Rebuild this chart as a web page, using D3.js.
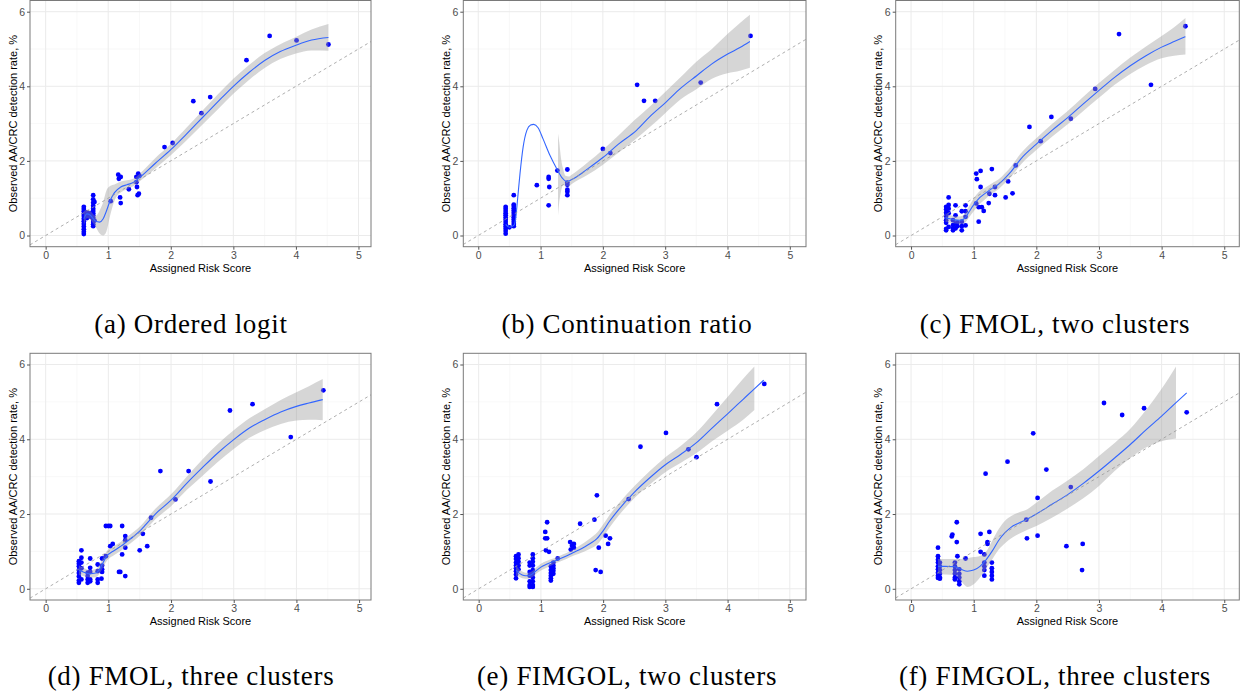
<!DOCTYPE html>
<html>
<head>
<meta charset="utf-8">
<script src="https://cdn.jsdelivr.net/npm/d3@7"></script>
<style>
  body { margin: 0; background: #fff; }
  svg { display: block; }
</style>
</head>
<body>
<div id="chart"></div>
<script>
// ---- data ----
var captions = ['(a) Ordered logit', '(b) Continuation ratio', '(c) FMOL, two clusters',
                '(d) FMOL, three clusters', '(e) FIMGOL, two clusters', '(f) FIMGOL, three clusters'];
var xTicks = [0, 1, 2, 3, 4, 5];
var yTicks = [0, 2, 4, 6];
var xMinor = [0.5, 1.5, 2.5, 3.5, 4.5];
var yMinor = [1, 3, 5];
var xTitle = 'Assigned Risk Score';
var yTitle = 'Observed AA/CRC detection rate, %';

// (a) ordered logit
var aX = [0.61,0.61,0.61,0.61,0.61,0.61,0.61,0.61,0.61,0.61,0.61,0.61,0.66,0.66,0.66,0.72,0.72,
          0.76,0.76,0.76,0.76,0.76,0.76,0.76,0.76,0.76,0.76,0.76,0.76,0.76,0.78,0.78,
          1.04,1.16,1.17,1.2,1.19,1.2,1.33,1.45,1.45,1.48,1.46,1.47,1.49,1.5,1.9,2.03,2.36,2.49,2.63,3.21,3.58,4.01,4.52];
var aY = [0.04,0.1,0.17,0.24,0.31,0.38,0.45,0.52,0.58,0.65,0.71,0.77,0.47,0.55,0.62,0.5,0.6,
          0.25,0.3,0.36,0.42,0.48,0.54,0.6,0.66,0.72,0.8,0.88,0.97,1.08,0.9,0.4,
          0.92,1.63,1.52,1.57,1.02,0.87,1.24,1.57,1.43,1.66,1.3,1.08,1.12,1.6,2.37,2.48,3.6,3.28,3.71,4.7,5.35,5.23,5.12];
var aSmoothX = [0.61,0.66,0.71,0.76,0.8,0.86,0.92,0.97,1.03,1.1,1.2,1.3,1.4,1.5,1.75,2.0,2.25,2.5,2.75,3.0,3.25,3.5,3.75,4.0,4.25,4.52];
var aFit = [0.45,0.58,0.55,0.45,0.38,0.36,0.45,0.65,0.93,1.15,1.3,1.36,1.42,1.55,1.93,2.3,2.72,3.15,3.58,4.0,4.37,4.69,4.93,5.1,5.24,5.31];
var aBandX = aSmoothX;
var aLo = [0.25,0.46,0.43,0.33,0.23,0.06,0.0,0.1,0.53,0.93,1.15,1.24,1.32,1.45,1.79,2.15,2.55,2.96,3.38,3.8,4.17,4.49,4.73,4.88,4.96,4.95];
var aHi = [0.65,0.7,0.67,0.57,0.53,0.66,0.9,1.2,1.33,1.37,1.45,1.48,1.52,1.65,2.07,2.45,2.89,3.34,3.78,4.2,4.57,4.89,5.13,5.32,5.52,5.67];

// (b) continuation ratio
var bX = [0.44,0.44,0.44,0.44,0.44,0.44,0.44,0.44,0.44,0.44,0.44,0.44,0.44,0.5,
          0.57,0.57,0.57,0.57,0.57,0.57,0.57,0.57,0.57,0.57,0.57,0.57,
          0.94,1.13,1.13,1.14,1.13,1.27,1.43,1.43,1.43,1.43,1.43,1.43,2.0,2.12,2.55,2.66,2.84,3.57,4.37];
var bY = [0.05,0.12,0.18,0.24,0.3,0.36,0.42,0.48,0.54,0.6,0.66,0.72,0.77,0.22,
          0.25,0.31,0.37,0.43,0.49,0.55,0.61,0.67,0.73,0.79,0.83,1.08,
          1.35,1.57,1.52,1.3,0.81,1.74,1.77,1.42,1.36,1.23,1.17,1.08,2.32,2.21,4.04,3.61,3.61,4.1,5.35];
var bSmoothX = [0.44,0.5,0.57,0.6,0.63,0.67,0.72,0.78,0.84,0.89,0.96,1.04,1.15,1.26,1.35,1.42,1.5,1.75,2.0,2.25,2.54,2.75,3.01,3.25,3.51,3.75,4.01,4.2,4.36];
var bFit = [0.3,0.22,0.27,0.45,0.95,1.66,2.37,2.82,2.96,2.98,2.89,2.59,2.15,1.79,1.54,1.45,1.5,1.78,2.09,2.45,2.82,3.18,3.57,3.95,4.29,4.6,4.87,5.04,5.2];
var bBandX = [1.28,1.3,1.33,1.36,1.4,1.45,1.5,1.75,2.0,2.25,2.5,2.75,3.0,3.25,3.5,3.75,4.0,4.2,4.36];
var bLo = [0.54,0.9,1.2,1.35,1.33,1.32,1.38,1.62,1.9,2.22,2.55,2.9,3.28,3.65,3.92,4.2,4.35,4.42,4.5];
var bHi = [2.73,2.5,2.05,1.8,1.6,1.58,1.63,1.95,2.3,2.68,3.08,3.45,3.85,4.25,4.66,5.0,5.4,5.7,5.92];

// (c) FMOL, two clusters
var cX = [0.56,0.56,0.56,0.56,0.56,0.56,0.56,0.56,0.6,0.6,0.6,0.6,0.6,0.67,0.67,0.67,0.67,0.71,0.71,0.71,0.71,0.74,0.74,
          0.81,0.81,0.81,0.81,0.87,0.87,0.87,0.87,1.04,1.05,1.04,1.11,1.11,1.08,1.13,1.08,1.16,1.24,1.25,1.29,1.34,1.34,
          1.51,1.55,1.62,1.67,1.89,2.07,2.24,2.55,2.94,3.32,3.83,4.38];
var cY = [0.77,0.7,0.61,0.52,0.41,0.34,0.18,0.14,1.02,0.82,0.72,0.6,0.23,0.41,0.28,0.19,0.14,0.81,0.54,0.32,0.19,0.25,0.35,
          0.65,0.37,0.14,0.25,0.81,0.65,0.5,0.27,1.66,1.51,0.86,1.73,1.3,0.76,0.76,0.37,0.66,0.87,1.12,1.78,1.3,1.08,
          1.02,1.45,1.13,1.88,2.91,2.53,3.18,3.13,3.93,5.4,4.04,5.61];
var cSmoothX = [0.55,0.62,0.7,0.78,0.85,0.92,1.0,1.1,1.2,1.3,1.4,1.5,1.6,1.75,2.0,2.25,2.5,2.75,3.0,3.25,3.5,3.75,4.0,4.2,4.38];
var cFit = [0.48,0.45,0.42,0.41,0.45,0.62,0.82,1.02,1.15,1.27,1.38,1.54,1.72,2.05,2.45,2.82,3.16,3.53,3.89,4.24,4.55,4.82,5.05,5.2,5.33];
var cBandX = cSmoothX;
var cLo = [0.36,0.35,0.32,0.31,0.33,0.47,0.65,0.85,1.0,1.13,1.25,1.41,1.58,1.9,2.29,2.65,2.98,3.34,3.69,4.04,4.33,4.57,4.75,4.82,4.85];
var cHi = [0.6,0.55,0.52,0.51,0.57,0.77,0.99,1.19,1.3,1.41,1.51,1.67,1.86,2.2,2.61,2.99,3.34,3.72,4.09,4.44,4.77,5.07,5.35,5.58,5.83];

// (d) FMOL, three clusters
var dX = [0.53,0.53,0.53,0.53,0.53,0.53,0.53,0.53,0.57,0.57,0.57,0.57,0.57,0.67,0.67,0.67,0.67,0.71,0.71,0.71,0.71,0.71,
          0.83,0.83,0.83,0.83,0.9,0.9,0.9,0.9,0.89,0.96,0.96,1.0,1.03,1.03,1.07,1.19,1.17,1.22,1.22,1.27,1.27,1.27,1.27,
          1.5,1.55,1.62,1.68,1.83,2.07,2.28,2.63,2.94,3.3,3.91,4.43];
var dY = [0.74,0.67,0.6,0.5,0.42,0.33,0.22,0.16,1.03,0.83,0.7,0.55,0.25,0.43,0.34,0.25,0.16,0.81,0.56,0.45,0.25,0.2,
          0.65,0.47,0.25,0.16,0.81,0.62,0.52,0.45,0.27,0.87,1.68,1.68,1.68,1.14,1.2,0.45,0.45,1.68,0.92,1.41,1.3,1.1,0.34,
          1.03,1.47,1.14,1.9,3.15,2.39,3.15,2.87,4.77,4.94,4.06,5.31];
var dSmoothX = [0.53,0.6,0.7,0.8,0.85,0.9,0.96,1.1,1.2,1.3,1.4,1.5,1.6,1.75,2.0,2.25,2.5,2.75,3.0,3.25,3.5,3.75,4.0,4.2,4.42];
var dFit = [0.5,0.45,0.4,0.42,0.5,0.65,0.84,1.03,1.14,1.27,1.4,1.54,1.72,2.0,2.37,2.82,3.24,3.64,3.99,4.3,4.53,4.73,4.88,4.97,5.06];
var dBandX = dSmoothX;
var dLo = [0.37,0.34,0.3,0.31,0.38,0.52,0.71,0.91,1.02,1.15,1.28,1.42,1.59,1.86,2.21,2.64,3.02,3.4,3.74,4.04,4.25,4.41,4.5,4.52,4.51];
var dHi = [0.63,0.56,0.5,0.53,0.62,0.78,0.97,1.15,1.26,1.39,1.52,1.66,1.85,2.14,2.53,3.0,3.46,3.88,4.24,4.56,4.81,5.05,5.26,5.42,5.61];

// (e) FIMGOL, two clusters
var eX = [0.6,0.6,0.6,0.6,0.6,0.6,0.6,0.6,0.64,0.64,0.64,0.64,0.64,
          0.82,0.82,0.82,0.82,0.82,0.82,0.82,0.87,0.87,0.87,0.87,0.87,0.87,0.87,0.87,0.87,0.87,
          1.07,1.07,1.1,1.08,1.13,1.1,1.16,1.16,1.16,1.16,1.16,1.16,1.2,1.2,1.2,1.2,1.2,1.27,
          1.47,1.53,1.48,1.53,1.5,1.63,1.86,1.9,1.93,1.88,1.96,2.04,2.08,2.11,2.41,2.6,3.01,3.37,3.5,3.83,4.59];
var eY = [0.87,0.8,0.7,0.62,0.55,0.47,0.38,0.28,0.92,0.82,0.72,0.62,0.52,
          0.7,0.62,0.45,0.35,0.2,0.1,0.05,0.92,0.82,0.72,0.62,0.5,0.4,0.3,0.2,0.1,0.05,
          1.52,1.35,1.35,1.03,0.99,1.78,0.6,0.5,0.42,0.35,0.28,0.22,0.7,0.62,0.55,0.48,0.4,0.81,
          1.25,1.2,1.05,1.1,1.15,1.74,1.85,2.5,1.1,0.5,0.45,1.42,1.2,1.35,2.4,3.8,4.17,3.73,3.52,4.94,5.48];
var eSmoothX = [0.6,0.65,0.7,0.75,0.8,0.85,0.9,1.0,1.1,1.2,1.3,1.4,1.5,1.6,1.7,1.8,1.9,2.0,2.1,2.25,2.5,2.75,3.0,3.25,3.5,3.75,4.0,4.25,4.43,4.58];
var eFit = [0.5,0.42,0.37,0.35,0.35,0.38,0.45,0.58,0.66,0.73,0.8,0.87,0.95,1.03,1.12,1.22,1.34,1.55,1.8,2.12,2.58,2.97,3.32,3.6,3.91,4.3,4.68,5.07,5.35,5.58];
var eBandX = [0.6,0.65,0.7,0.75,0.8,0.85,0.9,1.0,1.1,1.2,1.3,1.4,1.5,1.6,1.7,1.8,1.9,2.0,2.1,2.25,2.5,2.75,3.0,3.25,3.5,3.75,4.0,4.25,4.43];
var eLo = [0.35,0.32,0.28,0.27,0.27,0.3,0.37,0.49,0.57,0.65,0.72,0.79,0.87,0.93,1.0,1.08,1.18,1.38,1.63,1.96,2.42,2.79,3.12,3.37,3.63,3.95,4.23,4.52,4.78];
var eHi = [0.65,0.52,0.46,0.43,0.43,0.46,0.53,0.67,0.75,0.81,0.88,0.95,1.03,1.13,1.24,1.36,1.5,1.72,1.97,2.28,2.74,3.15,3.52,3.83,4.19,4.65,5.13,5.62,5.95];

// (f) FIMGOL, three clusters
var fX = [0.43,0.43,0.43,0.43,0.43,0.43,0.43,0.43,0.43,0.46,0.46,0.46,0.46,0.46,0.46,
          0.66,0.65,0.73,0.73,0.74,0.7,0.7,0.7,0.7,0.7,0.7,0.77,0.77,0.77,0.77,0.77,
          0.87,1.11,1.11,1.17,1.19,1.22,1.22,1.25,1.17,1.17,1.17,1.17,1.29,1.29,1.29,1.29,1.29,
          1.54,1.84,1.85,1.95,2.02,2.02,2.16,2.48,2.55,2.73,2.74,3.08,3.37,3.72,4.4];
var fY = [1.1,0.87,0.78,0.7,0.6,0.52,0.43,0.35,0.29,0.7,0.6,0.5,0.4,0.3,0.27,
          1.45,1.4,1.78,1.25,0.87,0.7,0.6,0.5,0.4,0.3,0.25,0.52,0.4,0.3,0.2,0.12,
          0.81,1.47,0.99,0.92,3.08,1.25,1.2,1.52,0.7,0.6,0.5,0.35,0.7,0.55,0.45,0.35,0.25,
          3.4,1.85,1.35,4.16,2.43,1.42,3.19,1.14,2.72,0.5,1.2,4.97,4.65,4.83,4.72];
var fSmoothX = [0.43,0.55,0.7,0.8,0.9,1.0,1.1,1.2,1.3,1.4,1.5,1.6,1.7,1.85,2.0,2.25,2.5,2.75,3.0,3.25,3.5,3.75,4.0,4.23,4.4];
var fFit = [0.6,0.6,0.59,0.52,0.47,0.5,0.6,0.78,1.02,1.3,1.5,1.65,1.74,1.86,2.0,2.26,2.52,2.82,3.15,3.5,3.86,4.25,4.62,4.98,5.24];
var fBandX = [0.43,0.55,0.7,0.8,0.9,1.0,1.1,1.2,1.3,1.4,1.5,1.6,1.7,1.85,2.0,2.25,2.5,2.75,3.0,3.25,3.5,3.75,4.0,4.23];
var fLo = [0.4,0.38,0.37,0.2,0.05,0.12,0.3,0.55,0.8,1.05,1.22,1.35,1.45,1.57,1.68,1.9,2.15,2.42,2.75,3.15,3.5,3.78,3.95,4.02];
var fHi = [0.8,0.8,0.8,0.8,0.82,0.85,0.88,1.0,1.3,1.6,1.82,1.95,2.03,2.12,2.3,2.62,2.9,3.2,3.55,3.9,4.28,4.78,5.35,5.95];

// ---- layout ----
var width = 1247, height = 700;
var cols = [{left: 30, right: 371, cap: 191}, {left: 463.3, right: 806, cap: 627}, {left: 895.7, right: 1239.3, cap: 1055}];
var rows = [{top: 0.5, bottom: 246.7, cap: 333}, {top: 353.3, bottom: 600, cap: 685}];
var xDomains = [[-0.25, 5.2], [-0.24, 5.26], [-0.245, 5.24], [-0.25, 5.19], [-0.247, 5.26], [-0.245, 5.24]];
var yDomain = [-0.3, 6.3];

var panels = [
  {x: aX, y: aY, sx: aSmoothX, fit: aFit, bx: aBandX, lo: aLo, hi: aHi},
  {x: bX, y: bY, sx: bSmoothX, fit: bFit, bx: bBandX, lo: bLo, hi: bHi},
  {x: cX, y: cY, sx: cSmoothX, fit: cFit, bx: cBandX, lo: cLo, hi: cHi},
  {x: dX, y: dY, sx: dSmoothX, fit: dFit, bx: dBandX, lo: dLo, hi: dHi},
  {x: eX, y: eY, sx: eSmoothX, fit: eFit, bx: eBandX, lo: eLo, hi: eHi},
  {x: fX, y: fY, sx: fSmoothX, fit: fFit, bx: fBandX, lo: fLo, hi: fHi}
];

var svg = d3.select('#chart').append('svg')
    .attr('width', width)
    .attr('height', height);

panels.forEach(function(p, i) {
  var col = cols[i % 3], row = rows[Math.floor(i / 3)];

  var xScale = d3.scaleLinear().domain(xDomains[i]).range([col.left, col.right]);
  var yScale = d3.scaleLinear().domain(yDomain).range([row.bottom, row.top]);

  var g = svg.append('g').attr('class', 'panel');

  g.append('clipPath').attr('id', 'clip' + i)
    .append('rect')
      .attr('x', col.left).attr('y', row.top)
      .attr('width', col.right - col.left).attr('height', row.bottom - row.top);

  // grid, minor then major
  g.selectAll('.vminor').data(xMinor).enter().append('line')
      .attr('x1', xScale).attr('x2', xScale)
      .attr('y1', row.top).attr('y2', row.bottom)
      .attr('stroke', '#f4f4f4').attr('stroke-width', 0.6);
  g.selectAll('.hminor').data(yMinor).enter().append('line')
      .attr('y1', yScale).attr('y2', yScale)
      .attr('x1', col.left).attr('x2', col.right)
      .attr('stroke', '#f4f4f4').attr('stroke-width', 0.6);
  g.selectAll('.vmajor').data(xTicks).enter().append('line')
      .attr('x1', xScale).attr('x2', xScale)
      .attr('y1', row.top).attr('y2', row.bottom)
      .attr('stroke', '#ebebeb').attr('stroke-width', 1);
  g.selectAll('.hmajor').data(yTicks).enter().append('line')
      .attr('y1', yScale).attr('y2', yScale)
      .attr('x1', col.left).attr('x2', col.right)
      .attr('stroke', '#ebebeb').attr('stroke-width', 1);

  var plot = g.append('g').attr('clip-path', 'url(#clip' + i + ')');

  // points
  plot.selectAll('circle')
      .data(p.x.map(function(d, j) { return [d, p.y[j]]; }))
    .enter().append('circle')
      .attr('cx', function(d) { return xScale(d[0]); })
      .attr('cy', function(d) { return yScale(d[1]); })
      .attr('r', 2.4)
      .attr('fill', '#0000ff');

  // confidence band
  var band = p.bx.map(function(d, j) { return {x: d, lo: p.lo[j], hi: p.hi[j]}; });
  plot.append('path')
      .datum(band)
      .attr('fill', '#999999')
      .attr('fill-opacity', 0.4)
      .attr('d', d3.area()
        .curve(d3.curveMonotoneX)
        .x(function(d) { return xScale(d.x); })
        .y0(function(d) { return yScale(d.lo); })
        .y1(function(d) { return yScale(d.hi); }));

  // smooth
  plot.append('path')
      .datum(p.sx.map(function(d, j) { return [d, p.fit[j]]; }))
      .attr('fill', 'none')
      .attr('stroke', '#3366ff')
      .attr('stroke-width', 1.1)
      .attr('d', d3.line()
        .curve(d3.curveMonotoneX)
        .x(function(d) { return xScale(d[0]); })
        .y(function(d) { return yScale(d[1]); }));

  // y = x reference
  var dom = xDomains[i];
  plot.append('line')
      .attr('x1', xScale(dom[0])).attr('y1', yScale(dom[0]))
      .attr('x2', xScale(dom[1])).attr('y2', yScale(dom[1]))
      .attr('stroke', '#999999')
      .attr('stroke-width', 0.8)
      .attr('stroke-dasharray', '3,3');

  // border
  g.append('rect')
      .attr('x', col.left).attr('y', row.top)
      .attr('width', col.right - col.left).attr('height', row.bottom - row.top)
      .attr('fill', 'none')
      .attr('stroke', '#7a7a7a')
      .attr('stroke-width', 1);

  // axes
  var xAxis = d3.axisBottom(xScale).tickValues(xTicks).tickFormat(d3.format('d')).tickSize(3).tickPadding(2);
  var yAxis = d3.axisLeft(yScale).tickValues(yTicks).tickFormat(d3.format('d')).tickSize(3).tickPadding(2);

  var gx = g.append('g')
      .attr('transform', 'translate(0,' + row.bottom + ')')
      .call(xAxis);
  var gy = g.append('g')
      .attr('transform', 'translate(' + col.left + ',0)')
      .call(yAxis);

  [gx, gy].forEach(function(ax) {
    ax.select('.domain').remove();
    ax.selectAll('.tick line').attr('stroke', '#555');
    ax.selectAll('.tick text')
        .attr('fill', '#4d4d4d')
        .style('font-family', 'Liberation Sans, Arial, sans-serif')
        .style('font-size', '10.5px');
  });

  g.append('text')
      .attr('x', (col.left + col.right) / 2)
      .attr('y', row.bottom + 25)
      .attr('text-anchor', 'middle')
      .style('font-family', 'Liberation Sans, Arial, sans-serif')
      .style('font-size', '11px')
      .attr('fill', '#000')
      .text(xTitle);

  g.append('text')
      .attr('transform', 'translate(' + (col.left - 13.5) + ',' + ((row.top + row.bottom) / 2) + ') rotate(-90)')
      .attr('text-anchor', 'middle')
      .style('font-family', 'Liberation Sans, Arial, sans-serif')
      .style('font-size', '11px')
      .attr('fill', '#000')
      .text(yTitle);

  // caption
  svg.append('text')
      .attr('x', col.cap)
      .attr('y', row.cap)
      .attr('text-anchor', 'middle')
      .style('font-family', 'Liberation Serif, Times New Roman, serif')
      .style('font-size', '27px')
      .style('letter-spacing', '0.7px')
      .attr('fill', '#000')
      .text(captions[i]);
});
</script>
</body>
</html>
